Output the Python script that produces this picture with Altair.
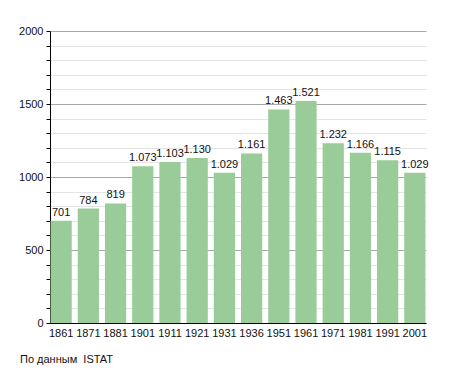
import altair as alt
import pandas as pd

years = ["1861", "1871", "1881", "1901", "1911", "1921", "1931", "1936",
         "1951", "1961", "1971", "1981", "1991", "2001"]
population = [701, 784, 819, 1073, 1103, 1130, 1029, 1161,
              1463, 1521, 1232, 1166, 1115, 1029]
source_note = "По данным\u00a0 ISTAT"

df = pd.DataFrame({"year": years, "pop": population})
df["label"] = [f"{v:,}".replace(",", ".") for v in population]

FONT = "Liberation Sans"

x = alt.X("year:N", sort=None, title=None,
          scale=alt.Scale(paddingInner=0.22, paddingOuter=0.02),
          axis=alt.Axis(labelAngle=0, ticks=False, domainColor="#000",
                        labelColor="#111", labelFont=FONT, labelFontSize=11,
                        labelPadding=4))
y = alt.Y("pop:Q", title=None,
          scale=alt.Scale(domain=[0, 2000], nice=False),
          axis=alt.Axis(values=list(range(0, 2001, 100)),
                        tickCount=50,
                        labelOverlap=False,
                        labelExpr="datum.value % 500 === 0 ? datum.label : ''",
                        tickSize=4, tickColor="#000", domainColor="#000",
                        gridColor={"expr": "datum.value % 500 === 0 ? '#aaaaaa' : '#e4e4e4'"},
                        labelColor="#111", labelFont=FONT, labelFontSize=11,
                        labelPadding=3, format="d"))

bars = alt.Chart(df).mark_bar(color="#99cc99").encode(x=x, y=y)
labels = alt.Chart(df).mark_text(baseline="bottom", dy=-3, font=FONT,
                                 fontSize=11, color="#111").encode(
    x=alt.X("year:N", sort=None), y="pop:Q", text="label:N")

chart = (bars + labels).properties(
    width=376, height=292,
    autosize=alt.AutoSizeParams(type="none"),
    padding={"left": 42, "top": 23, "right": 21, "bottom": 42},
    title=alt.TitleParams(source_note, orient="bottom", anchor="start",
                          frame="group", dx=-30, offset=16, font=FONT,
                          fontSize=11, fontWeight="normal", color="#111"),
).configure_view(stroke=None)

chart.save("out.html", embed_options={"renderer": "svg", "actions": False})
